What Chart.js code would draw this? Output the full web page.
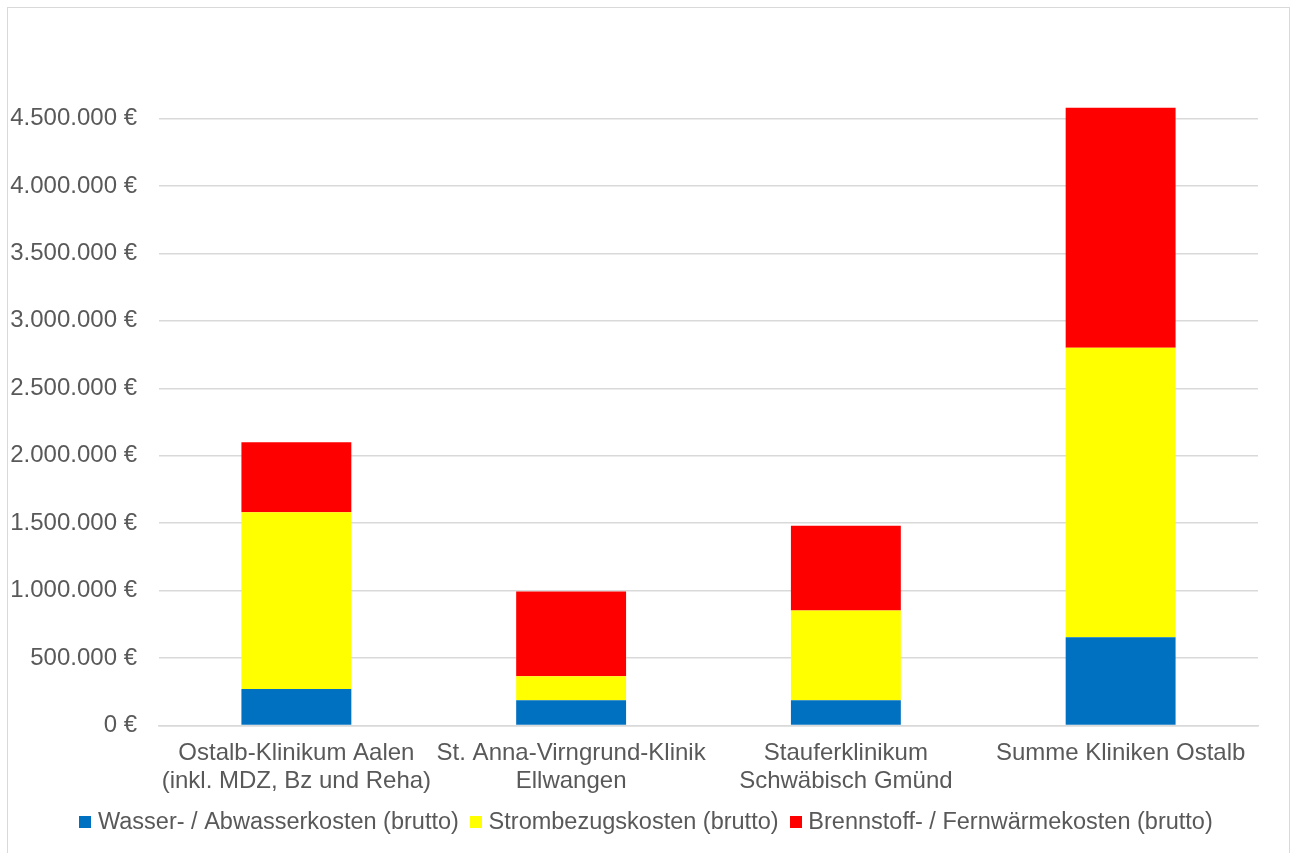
<!DOCTYPE html>
<html>
<head>
<meta charset="utf-8">
<script src="https://cdn.jsdelivr.net/npm/chart.js@4"></script>
<style>
  html, body { margin: 0; padding: 0; background: #fff; }
  #box {
    position: absolute; left: 7px; top: 7px;
    width: 1281px; height: 850px;
    border: 1px solid #d9d9d9;
  }
</style>
</head>
<body>
<div id="box"><canvas id="myChart"></canvas></div>
<script>
// categories
const kliniken = [
    ['Ostalb-Klinikum Aalen', '(inkl. MDZ, Bz und Reha)'],
    ['St. Anna-Virngrund-Klinik', 'Ellwangen'],
    ['Stauferklinikum', 'Schwäbisch Gmünd'],
    'Summe Kliniken Ostalb'
];

// series values (EUR)
const wasser = [271000, 187000, 187000, 654000];
const strom = [1309000, 178000, 665000, 2146000];
const brennstoff = [519000, 628000, 629000, 1780000];

const serienNamen = [
    'Wasser- / Abwasserkosten (brutto)',
    'Strombezugskosten (brutto)',
    'Brennstoff- / Fernwärmekosten (brutto)'
];
const serienFarben = ['#0070c0', '#ffff00', '#ff0000'];

// y axis: top of axis at 5 Mio, last labelled tick 4,5 Mio
const yMax = 5000000;
const yLastLabel = 4500000;
const yStep = 500000;

function euro(v) {
    return String(v).replace(/\B(?=(\d{3})+(?!\d))/g, '.') + ' €';
}

// small square used as legend marker
function marker(color) {
    const c = document.createElement('canvas');
    c.width = 12;
    c.height = 12;
    const g = c.getContext('2d');
    g.fillStyle = color;
    g.fillRect(0, 0, 12, 12);
    return c;
}

Chart.defaults.font.family = '"Liberation Sans", Arial, sans-serif';
Chart.defaults.font.size = 24;
Chart.defaults.color = '#595959';

const data = {
    labels: kliniken,
    datasets: [wasser, strom, brennstoff].map(function (werte, i) {
        return {
            label: serienNamen[i],
            data: werte,
            backgroundColor: serienFarben[i]
        };
    })
};

// legend is centred on the whole chart box, not on the padded area
const legendeMittig = {
    id: 'legendeMittig',
    afterLayout: function (chart) {
        chart.legend.right += 31;
    }
};

const config = {
    type: 'bar',
    data: data,
    plugins: [legendeMittig],
    options: {
        responsive: false,
        animation: false,
        layout: {
            padding: { top: 43, right: 31, bottom: 10, left: 0 }
        },
        datasets: {
            bar: {
                barPercentage: 0.4,
                categoryPercentage: 1
            }
        },
        scales: {
            x: {
                stacked: true,
                grid: { display: false, drawTicks: false },
                border: { display: true, color: '#d9d9d9', width: 1.5 },
                ticks: {
                    padding: 14,
                    maxRotation: 0,
                    autoSkip: false,
                    font: { size: 24, lineHeight: 1.17 }
                },
                afterFit: function (scale) {
                    scale.height = 69;
                }
            },
            y: {
                stacked: true,
                min: 0,
                max: yMax,
                grid: { color: '#d9d9d9', lineWidth: 1.5, drawTicks: false },
                border: { display: false },
                ticks: {
                    stepSize: yStep,
                    padding: 22,
                    callback: function (v) {
                        return v > yLastLabel ? null : euro(v);
                    }
                },
                afterFit: function (scale) {
                    scale.width = 151;
                }
            }
        },
        plugins: {
            legend: {
                position: 'bottom',
                labels: {
                    usePointStyle: true,
                    boxWidth: 2,
                    boxHeight: 12,
                    padding: 16,
                    font: { size: 23.5 },
                    generateLabels: function (chart) {
                        const items = Chart.defaults.plugins.legend.labels.generateLabels(chart);
                        items.forEach(function (it, i) {
                            it.pointStyle = marker(serienFarben[i]);
                        });
                        return items;
                    }
                }
            },
            tooltip: { enabled: false }
        }
    }
};

const canvas = document.getElementById('myChart');
canvas.width = 1281;
canvas.height = 846;
canvas.style.width = '1281px';
canvas.style.height = '846px';

var myChart = new Chart(canvas, config);
</script>
</body>
</html>
